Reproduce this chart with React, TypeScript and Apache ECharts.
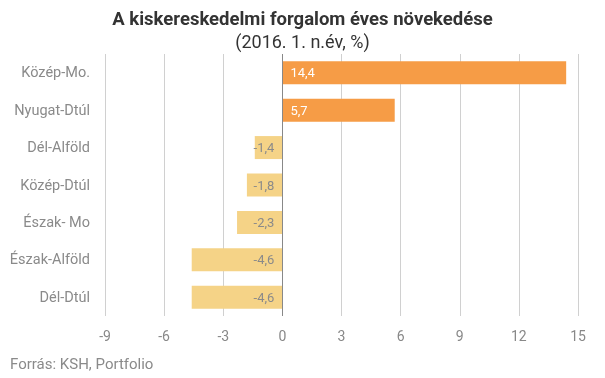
import React, { useEffect, useRef } from "react";
import * as echarts from "echarts";

const categories = ["Közép-Mo.", "Nyugat-Dtúl", "Dél-Alföld", "Közép-Dtúl", "Észak- Mo", "Észak-Alföld", "Dél-Dtúl"];
const values = [14.4, 5.7, -1.4, -1.8, -2.3, -4.6, -4.6];
const titleText = "A kiskereskedelmi forgalom éves növekedése";
const subtitleText = "(2016. 1. n.év, %)";
const sourceText = "Forrás: KSH, Portfolio";

const POS = "#F69C46";
const NEG = "#F5D387";

export default function App() {
  const ref = useRef<HTMLDivElement>(null);
  useEffect(() => {
    if (!ref.current) return;
    const chart = echarts.init(ref.current, null, { renderer: "svg" });
    const font = "Roboto";
    chart.setOption({
      animation: false,
      textStyle: { fontFamily: font },
      title: [
        {
          text: titleText,
          left: "center",
          top: 4,
          textStyle: { fontFamily: font, fontSize: 18.5, fontWeight: "bold", color: "#333" },
        },
        {
          text: subtitleText,
          left: "center",
          top: 27,
          textStyle: { fontFamily: font, fontSize: 18, fontWeight: "normal", color: "#333" },
        },
      ],
      graphic: [
        {
          type: "text",
          left: 10,
          top: 356,
          style: { text: sourceText, fill: "#8a8a8a", font: `15px ${font}` },
        },
      ],
      grid: { left: 105, right: 27, top: 54, bottom: 62, containLabel: false },
      xAxis: {
        type: "value",
        min: -9,
        max: 15,
        interval: 3,
        axisLine: { show: false },
        axisTick: { show: false },
        splitLine: { show: true, lineStyle: { color: "#d0d0d0", width: 1 } },
        axisLabel: { color: "#888", fontSize: 14, margin: 13, fontFamily: font },
      },
      yAxis: {
        type: "category",
        data: categories,
        inverse: true,
        axisLine: { show: false },
        axisTick: { show: false },
        axisLabel: { color: "#8a8a8a", fontSize: 14.5, margin: 15, fontFamily: font },
      },
      series: [
        {
          type: "bar",
          barWidth: 23,
          data: values.map((v) => ({
            value: v,
            itemStyle: { color: v >= 0 ? POS : NEG },
            label: {
              show: true,
              position: v >= 0 ? "insideLeft" : "insideRight",
              distance: 8,
              color: v >= 0 ? "#fff" : "#8a8a8a",
              fontSize: 13,
              fontFamily: font,
              formatter: (p: any) => String(p.value).replace(".", ","),
            },
          })),
          markLine: {
            silent: true,
            symbol: "none",
            label: { show: false },
            lineStyle: { color: "#888", type: "solid", width: 1 },
            data: [{ xAxis: 0 }],
          },
        },
      ],
    });
    return () => chart.dispose();
  }, []);
  return <div ref={ref} style={{ position: "fixed", left: 0, top: 0, width: 605, height: 378 }} />;
}
